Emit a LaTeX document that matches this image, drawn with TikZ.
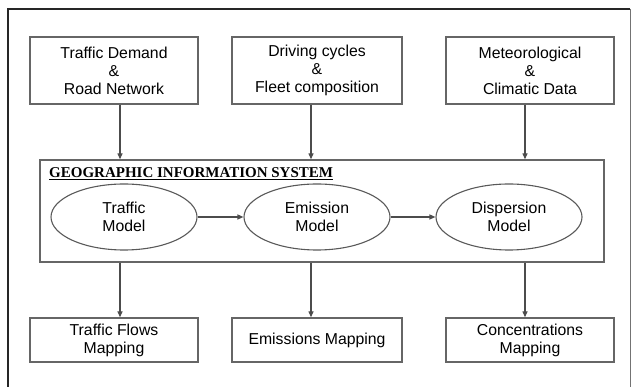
\documentclass[tikz,border=0pt]{standalone}
\usepackage{fontspec}
\setmainfont{Liberation Sans}
\newfontfamily\gisfont{Liberation Serif}
\usetikzlibrary{shapes.geometric,
                arrows.meta,
                positioning}

\begin{document}
\begin{tikzpicture}[x=1pt, y=-1pt,
  every node/.style = {font=\fontsize{15.8}{18}\selectfont, inner sep=0pt,
      align=center},
  databox/.style = {draw=black!60, line width=1.3pt, rectangle},
  model/.style = {draw=black!65, line width=1.1pt, ellipse,
      minimum width=146, minimum height=66},
  arr/.style = {draw=black!70, line width=1.2pt,
      -{Triangle[length=6pt, width=5pt]}}
  ]
  \useasboundingbox (0,0) rectangle (633,387);
  % frame
  \draw[black!85, line width=2.2pt] (8,400) -- (8,9) -- (630,9);
  \draw[black!55, line width=1pt] (630,9) -- (630,400);
  %
  \node[databox, minimum width=168, minimum height=67] (dem) at (114,70.5)
    {Traffic Demand\\\&\\Road Network};
  \node[databox, minimum width=170, minimum height=67] (drv) at (317,70.5)
    {Driving cycles\\\&\\Fleet composition};
  \node[databox, minimum width=168, minimum height=67] (met) at (530,70.5)
    {Meteorological\\\&\\Climatic Data};
  %
  \node[databox, minimum width=564, minimum height=102] (gis) at (322,211) {};
  \node[anchor=west, font=\gisfont\fontsize{15}{16}\selectfont\bfseries]
    (gist) at (49,174) {\underline{GEOGRAPHIC INFORMATION SYSTEM}};
  %
  \node[model] (trf) at (124,217) {Traffic\\Model};
  \node[model] (ems) at (317,217) {Emission\\Model};
  \node[model] (dsp) at (509,217) {Dispersion\\Model};
  %
  \node[databox, minimum width=168, minimum height=44] (flw) at (114,340)
    {Traffic Flows\\Mapping};
  \node[databox, minimum width=170, minimum height=44] (emm) at (317,340)
    {Emissions Mapping};
  \node[databox, minimum width=168, minimum height=44] (cnc) at (530,340)
    {Concentrations\\Mapping};
  %
  \draw[arr] (trf) -- (ems);
  \draw[arr] (ems) -- (dsp);
  \foreach \a/\b/\s in {dem/flw/6, drv/emm/-6, met/cnc/-5}
  {
    \draw[arr] ([xshift=\s pt]\a.south) -- ([xshift=\s pt]\a.south |- gis.north);
    \draw[arr] ([xshift=\s pt]\b.north |- gis.south) -- ([xshift=\s pt]\b.north);
  }
\end{tikzpicture}
\end{document}
